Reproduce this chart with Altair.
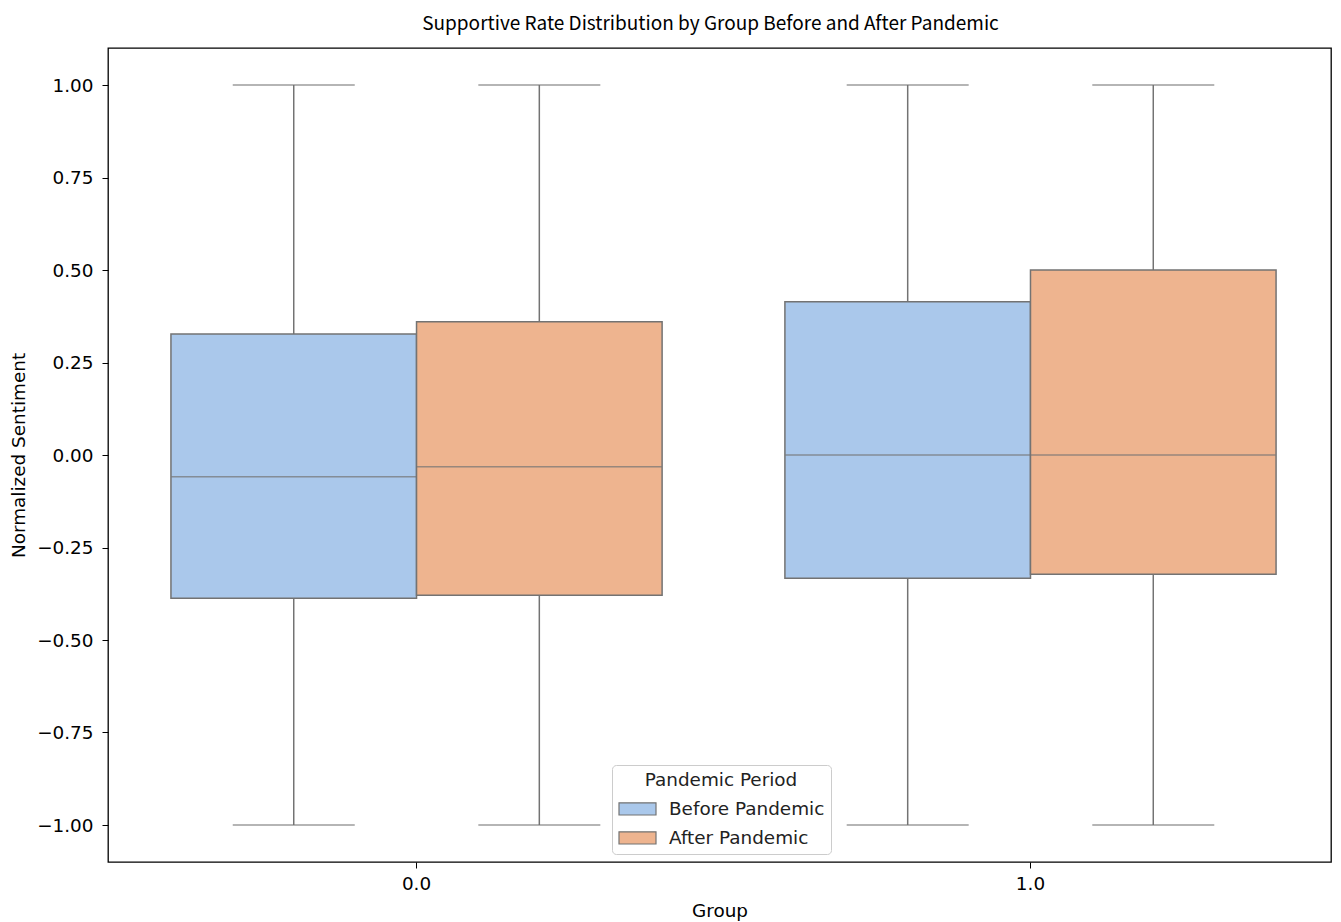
import altair as alt
import pandas as pd

groups = ["0.0", "0.0", "1.0", "1.0"]
periods = ["Before Pandemic", "After Pandemic", "Before Pandemic", "After Pandemic"]
lower = [-1.0, -1.0, -1.0, -1.0]
q1 = [-0.387, -0.379, -0.333, -0.322]
median = [-0.059, -0.032, 0.0, 0.0]
q3 = [0.327, 0.36, 0.414, 0.5]
upper = [1.0, 1.0, 1.0, 1.0]

period_order = ["Before Pandemic", "After Pandemic"]
colors = ["#aac8eb", "#eeb48f"]
y_ticks = [-1.0, -0.75, -0.5, -0.25, 0.0, 0.25, 0.5, 0.75, 1.0]

df = pd.DataFrame({"Group": groups, "Period": periods, "lower": lower, "q1": q1,
                   "median": median, "q3": q3, "upper": upper})

EDGE = "#737373"
FONT = "DejaVu Sans"
FS = 18.4
xenc = alt.X("Group:N", title="Group",
             scale=alt.Scale(paddingInner=0.2, paddingOuter=0.096, align=0.534),
             axis=alt.Axis(labelAngle=0, labelFontSize=FS, titleFontSize=FS,
                           titleFontWeight="normal", labelPadding=6, titlePadding=9,
                           tickSize=6, tickColor="#000", domain=False, labelColor="#000"))
xoff = alt.XOffset("Period:N", sort=period_order,
                   scale=alt.Scale(domain=period_order, paddingInner=0, paddingOuter=0))
yscale = alt.Scale(domain=[-1.1, 1.1], nice=False, zero=False)

base = alt.Chart(df)

whisk_lo = base.mark_rule(color=EDGE, strokeWidth=1.5).encode(
    x=xenc, xOffset=xoff,
    y=alt.Y("lower:Q", scale=yscale, title="Normalized Sentiment",
            axis=alt.Axis(values=y_ticks, format=".2f", grid=False, domain=False,
                          tickSize=6, tickColor="#000", labelFontSize=FS, labelColor="#000",
                          titleFontSize=FS, titleFontWeight="normal", titlePadding=8,
                          labelPadding=9)),
    y2="q1:Q")
whisk_hi = base.mark_rule(color=EDGE, strokeWidth=1.5).encode(
    x=xenc, xOffset=xoff, y=alt.Y("q3:Q", scale=yscale), y2="upper:Q")
cap_lo = base.mark_tick(color=EDGE, size=122, thickness=1.5).encode(
    x=xenc, xOffset=xoff, y=alt.Y("lower:Q", scale=yscale))
cap_hi = base.mark_tick(color=EDGE, size=122, thickness=1.5).encode(
    x=xenc, xOffset=xoff, y=alt.Y("upper:Q", scale=yscale))
boxes = base.mark_bar(stroke=EDGE, strokeWidth=1.5, opacity=1).encode(
    x=xenc, xOffset=xoff,
    y=alt.Y("q1:Q", scale=yscale), y2="q3:Q",
    color=alt.Color("Period:N", sort=period_order,
                    scale=alt.Scale(domain=period_order, range=colors),
                    legend=alt.Legend(title="Pandemic Period", orient="none",
                                      legendX=504, legendY=717)))
med = base.mark_tick(color=EDGE, size=245, thickness=1.5).encode(
    x=xenc, xOffset=xoff, y=alt.Y("median:Q", scale=yscale))

chart = alt.layer(whisk_lo, whisk_hi, cap_lo, cap_hi, boxes, med).properties(
    width=1223, height=814,
    title=alt.TitleParams("Supportive Rate Distribution by Group Before and After Pandemic",
                          font="Noto Sans CJK SC", fontSize=19, fontWeight="normal",
                          color="#000", anchor="middle", offset=14, dx=-9),
    autosize=alt.AutoSizeParams(type="none"),
    padding={"left": 100, "top": 40, "right": 2, "bottom": 60},
).configure_view(stroke="#000", strokeWidth=1.3).configure_axis(
    labelFont=FONT, titleFont=FONT, titleColor="#000"
).configure_legend(
    titleFont=FONT, titleFontSize=FS, titleFontWeight="normal", titleColor="#222",
    labelFont=FONT, labelFontSize=FS, labelColor="#222",
    strokeColor="#cccccc", fillColor="#ffffff", padding=6, cornerRadius=4,
    symbolType="M-1,-0.33H1V0.33H-1Z", symbolSize=1369, symbolStrokeColor=EDGE,
    symbolStrokeWidth=1.2, symbolOpacity=1, titleAnchor="middle", rowPadding=0,
    labelOffset=12, titlePadding=0,
)

chart.save("out.html", embed_options={"renderer": "svg", "actions": False})
